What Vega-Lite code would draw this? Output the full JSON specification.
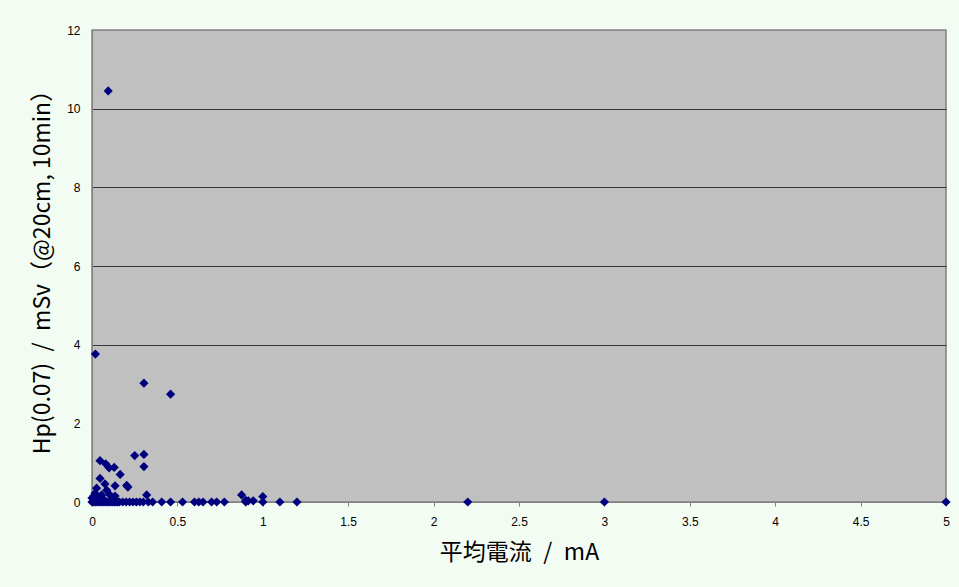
{
  "$schema": "https://vega.github.io/schema/vega-lite/v6.json",
  "width": 854,
  "height": 472,
  "autosize": "none",
  "padding": {"left": 92, "top": 30, "right": 13, "bottom": 85},
  "background": "#f3fcf3",
  "config": {
    "view": {"fill": "#c0c0c0", "stroke": "#808080", "strokeWidth": 1.5},
    "axis": {"labelFont": "Liberation Sans Narrow, Liberation Sans", "labelFontSize": 12, "labelColor": "#000000", "titleFont": "Noto Sans CJK JP", "titleFontSize": 23, "titleFontWeight": "normal", "titleColor": "#000000", "domainColor": "#808080", "tickColor": "#808080"}
  },
  "data": {
    "values": [
      {"current": 0.095, "hp": 10.45},
      {"current": 0.02, "hp": 3.76},
      {"current": 0.304, "hp": 3.02},
      {"current": 0.46, "hp": 2.74},
      {"current": 0.25, "hp": 1.18},
      {"current": 0.304, "hp": 1.21},
      {"current": 0.304, "hp": 0.9},
      {"current": 0.047, "hp": 1.05},
      {"current": 0.08, "hp": 0.97},
      {"current": 0.1, "hp": 0.87},
      {"current": 0.13, "hp": 0.88},
      {"current": 0.165, "hp": 0.7},
      {"current": 0.203, "hp": 0.42},
      {"current": 0.21, "hp": 0.38},
      {"current": 0.135, "hp": 0.41},
      {"current": 0.047, "hp": 0.6},
      {"current": 0.076, "hp": 0.46},
      {"current": 0.027, "hp": 0.35},
      {"current": 0.086, "hp": 0.3},
      {"current": 0.018, "hp": 0.22},
      {"current": 0.057, "hp": 0.18},
      {"current": 0.105, "hp": 0.18},
      {"current": 0.0, "hp": 0.1},
      {"current": 0.01, "hp": 0.15},
      {"current": 0.035, "hp": 0.12},
      {"current": 0.065, "hp": 0.08},
      {"current": 0.135, "hp": 0.15},
      {"current": 0.32, "hp": 0.18},
      {"current": 0.876, "hp": 0.18},
      {"current": 1.0, "hp": 0.14},
      {"current": 0.9, "hp": 0.04},
      {"current": 0.915, "hp": 0.03},
      {"current": 0.944, "hp": 0.03},
      {"current": 0.0, "hp": 0.0},
      {"current": 0.01, "hp": 0.0},
      {"current": 0.02, "hp": 0.0},
      {"current": 0.03, "hp": 0.0},
      {"current": 0.04, "hp": 0.0},
      {"current": 0.05, "hp": 0.0},
      {"current": 0.06, "hp": 0.0},
      {"current": 0.07, "hp": 0.0},
      {"current": 0.08, "hp": 0.0},
      {"current": 0.09, "hp": 0.0},
      {"current": 0.1, "hp": 0.0},
      {"current": 0.11, "hp": 0.0},
      {"current": 0.12, "hp": 0.0},
      {"current": 0.13, "hp": 0.0},
      {"current": 0.14, "hp": 0.0},
      {"current": 0.15, "hp": 0.0},
      {"current": 0.16, "hp": 0.0},
      {"current": 0.18, "hp": 0.0},
      {"current": 0.2, "hp": 0.0},
      {"current": 0.22, "hp": 0.0},
      {"current": 0.24, "hp": 0.0},
      {"current": 0.26, "hp": 0.0},
      {"current": 0.28, "hp": 0.0},
      {"current": 0.3, "hp": 0.0},
      {"current": 0.33, "hp": 0.0},
      {"current": 0.355, "hp": 0.0},
      {"current": 0.408, "hp": 0.0},
      {"current": 0.46, "hp": 0.0},
      {"current": 0.53, "hp": 0.0},
      {"current": 0.6, "hp": 0.0},
      {"current": 0.625, "hp": 0.0},
      {"current": 0.65, "hp": 0.0},
      {"current": 0.7, "hp": 0.0},
      {"current": 0.73, "hp": 0.0},
      {"current": 0.775, "hp": 0.0},
      {"current": 0.9, "hp": 0.0},
      {"current": 1.0, "hp": 0.0},
      {"current": 1.1, "hp": 0.0},
      {"current": 1.2, "hp": 0.0},
      {"current": 2.2, "hp": 0.0},
      {"current": 3.0, "hp": 0.0},
      {"current": 5.0, "hp": 0.0}
    ]
  },
  "mark": {"type": "point", "shape": "diamond", "filled": true, "size": 85, "color": "#00007f", "opacity": 1, "clip": false},
  "encoding": {
    "x": {
      "field": "current", "type": "quantitative",
      "scale": {"domain": [0, 5], "nice": false},
      "axis": {"title": "平均電流\u2002/\u2002mA", "values": [0, 0.5, 1, 1.5, 2, 2.5, 3, 3.5, 4, 4.5, 5], "format": "~g", "grid": false, "tickSize": 4, "labelPadding": 10, "titlePadding": 14, "labelFlush": false}
    },
    "y": {
      "field": "hp", "type": "quantitative",
      "scale": {"domain": [0, 12], "nice": false},
      "axis": {"title": "Hp(0.07)\u2002/\u2002mSv（@20cm, 10min）", "values": [0, 2, 4, 6, 8, 10, 12], "grid": true, "gridColor": {"condition": {"test": "datum.value == 0 || datum.value == 2 || datum.value == 12", "value": "transparent"}, "value": "#383838"}, "tickSize": 0, "labelPadding": 12, "titlePadding": 12, "labelFlush": false}
    }
  }
}
